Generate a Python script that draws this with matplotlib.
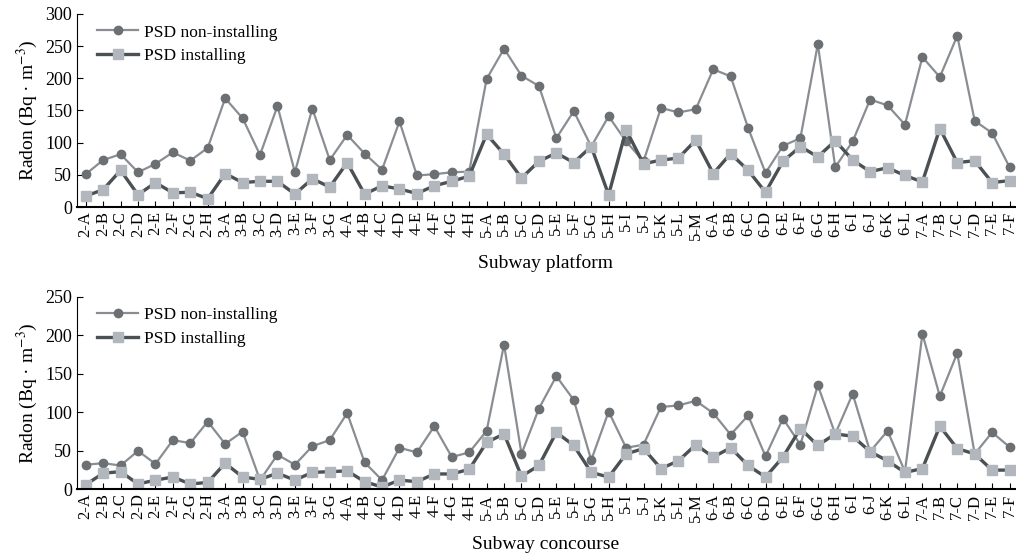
import matplotlib
matplotlib.use("Agg")
import matplotlib.pyplot as plt

plt.rcParams['font.family'] = ['Liberation Serif', 'DejaVu Serif']
plt.rcParams['mathtext.fontset'] = 'stix'

sites = ["2-A", "2-B", "2-C", "2-D", "2-E", "2-F", "2-G", "2-H",
         "3-A", "3-B", "3-C", "3-D", "3-E", "3-F", "3-G",
         "4-A", "4-B", "4-C", "4-D", "4-E", "4-F", "4-G", "4-H",
         "5-A", "5-B", "5-C", "5-D", "5-E", "5-F", "5-G", "5-H", "5-I",
         "5-J", "5-K", "5-L", "5-M",
         "6-A", "6-B", "6-C", "6-D", "6-E", "6-F", "6-G", "6-H", "6-I",
         "6-J", "6-K", "6-L",
         "7-A", "7-B", "7-C", "7-D", "7-E", "7-F"]

# platform
plat_non = [51, 73, 82, 54, 67, 85, 72, 92,
            169, 138, 81, 157, 54, 153, 73,
            112, 83, 58, 133, 49, 51, 54, 55,
            199, 246, 204, 188, 107, 149, 94, 141, 102,
            71, 154, 147, 152,
            214, 203, 123, 53, 95, 107, 253, 62, 102,
            167, 158, 128,
            233, 202, 266, 134, 115, 62]
plat_ins = [17, 27, 57, 19, 38, 22, 23, 13,
            52, 38, 40, 40, 20, 44, 31,
            69, 20, 33, 28, 21, 33, 40, 48,
            113, 82, 45, 71, 84, 69, 94, 19, 120,
            67, 73, 76, 104,
            52, 83, 57, 23, 71, 94, 78, 103, 73,
            55, 61, 49,
            39, 122, 69, 72, 38, 41]

# concourse
conc_non = [32, 34, 31, 50, 33, 64, 60, 88,
            59, 75, 12, 45, 32, 56, 64,
            99, 35, 12, 54, 48, 82, 42, 48,
            76, 188, 46, 105, 147, 116, 38, 101, 54,
            58, 107, 109, 115,
            99, 71, 96, 43, 92, 58, 135, 72, 124,
            49, 76, 23,
            202, 121, 177, 46, 74, 55]
conc_ins = [6, 21, 23, 7, 12, 16, 7, 9,
            34, 16, 13, 21, 12, 22, 23,
            24, 10, 3, 12, 10, 20, 20, 26,
            61, 72, 17, 31, 74, 57, 22, 16, 46,
            53, 27, 37, 58,
            42, 54, 31, 16, 42, 79, 57, 72, 69,
            49, 37, 22,
            27, 82, 53, 46, 25, 25]

panels = [(plat_non, plat_ins, 300, "Subway platform", [0.0758, 0.629, 0.923, 0.346]),
          (conc_non, conc_ins, 250, "Subway concourse", [0.0758, 0.123, 0.923, 0.345])]

fig = plt.figure(figsize=(10.16, 5.58), dpi=100)
x = list(range(len(sites)))

for non, ins, ymax, xlab, rect in panels:
    ax = fig.add_axes(rect)
    ax.plot(x, non, color='#8a8e92', lw=1.6, marker='o', ms=6,
            mfc='#6c7073', mec='#6c7073', label='PSD non-installing')
    ax.plot(x, ins, color='#4b5053', lw=2.4, marker='s', ms=6.5,
            mfc='#b2b7bd', mec='#b2b7bd', label='PSD installing')
    ax.set_xlim(-0.5, 53.3)
    ax.set_ylim(0, ymax)
    ax.set_yticks(range(0, ymax + 1, 50))
    ax.set_xticks(x)
    ax.set_xticklabels(sites, rotation=90, fontsize=12)
    ax.tick_params(axis='y', labelsize=13, direction='in', length=4)
    ax.tick_params(axis='x', direction='in', length=4, pad=3)
    for s in ['top', 'right']:
        ax.spines[s].set_visible(False)
    ax.spines['bottom'].set_linewidth(1.5)
    ax.set_xlabel(xlab, fontsize=14, labelpad=10)
    ax.set_ylabel('Radon (Bq · m$^{-3}$)', fontsize=14, labelpad=4)
    ax.legend(loc='upper left', frameon=False, fontsize=12.5,
              handlelength=2.4, borderaxespad=0.2, labelspacing=0.45,
              bbox_to_anchor=(0.01, 1.0), handletextpad=0.3)

fig.savefig("out.png", dpi=100)
